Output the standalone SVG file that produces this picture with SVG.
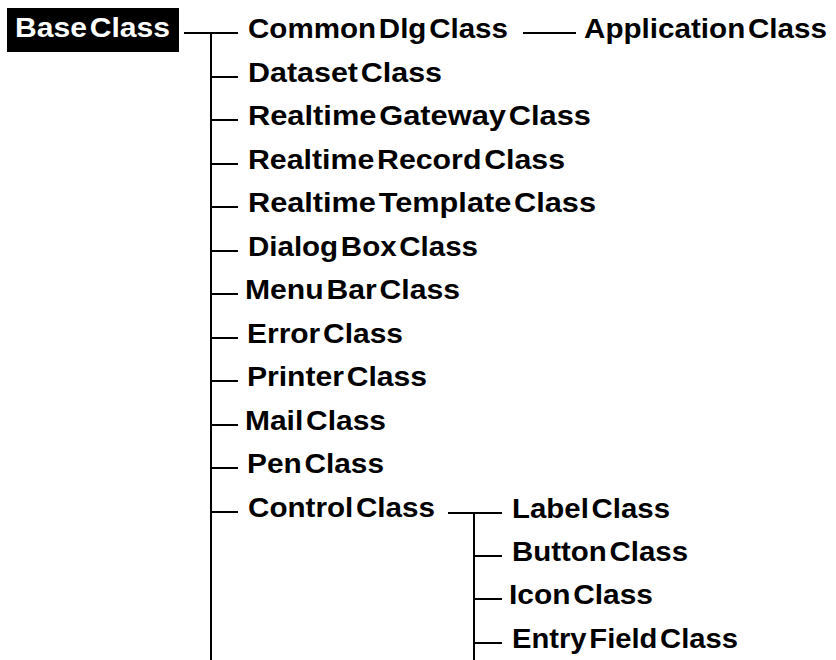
<svg xmlns="http://www.w3.org/2000/svg" width="836" height="660" viewBox="0 0 836 660">
  <style>
    .lbl { font-family: "Liberation Sans", Arial, Helvetica, sans-serif; font-weight: bold; font-size: 27px; word-spacing: -5px; fill: #000; }
    .root { fill: #fff; }
    .wire { stroke: #000; stroke-width: 2; fill: none; }
  </style>
  <rect width="836" height="660" fill="#fff"/>

  <!-- connectors -->
  <g id="connectors" class="wire">
    <!-- BaseClass trunk -->
    <line x1="184" y1="33" x2="238" y2="33"/>
    <line x1="211" y1="33" x2="211" y2="660"/>
    <line x1="211" y1="77" x2="238" y2="77"/>
    <line x1="211" y1="120" x2="238" y2="120"/>
    <line x1="211" y1="164" x2="238" y2="164"/>
    <line x1="211" y1="207" x2="238" y2="207"/>
    <line x1="211" y1="251" x2="238" y2="251"/>
    <line x1="211" y1="294" x2="238" y2="294"/>
    <line x1="211" y1="338" x2="238" y2="338"/>
    <line x1="211" y1="381" x2="238" y2="381"/>
    <line x1="211" y1="425" x2="238" y2="425"/>
    <line x1="211" y1="468" x2="238" y2="468"/>
    <line x1="211" y1="512" x2="238" y2="512"/>
    <!-- CommonDlgClass to ApplicationClass -->
    <line x1="523" y1="33" x2="576" y2="33"/>
    <!-- ControlClass subtree -->
    <line x1="448" y1="513" x2="502" y2="513"/>
    <line x1="474" y1="513" x2="474" y2="660"/>
    <line x1="474" y1="556" x2="502" y2="556"/>
    <line x1="474" y1="599" x2="502" y2="599"/>
    <line x1="474" y1="643" x2="502" y2="643"/>
  </g>

  <g id="BaseClass">
    <rect x="7" y="8" width="172" height="44" fill="#000"/>
    <text class="lbl root" x="15" y="37" textLength="155" lengthAdjust="spacingAndGlyphs">Base Class</text>
  </g>
  <g id="CommonDlgClass">
    <text class="lbl" x="248" y="37.5" textLength="260" lengthAdjust="spacingAndGlyphs">Common Dlg Class</text>
  </g>
  <g id="ApplicationClass">
    <text class="lbl" x="584" y="37.5" textLength="243" lengthAdjust="spacingAndGlyphs">Application Class</text>
  </g>
  <g id="DatasetClass">
    <text class="lbl" x="248" y="81.5" textLength="194" lengthAdjust="spacingAndGlyphs">Dataset Class</text>
  </g>
  <g id="RealtimeGatewayClass">
    <text class="lbl" x="248" y="125" textLength="343" lengthAdjust="spacingAndGlyphs">Realtime Gateway Class</text>
  </g>
  <g id="RealtimeRecordClass">
    <text class="lbl" x="248" y="168.5" textLength="317" lengthAdjust="spacingAndGlyphs">Realtime Record Class</text>
  </g>
  <g id="RealtimeTemplateClass">
    <text class="lbl" x="248" y="212" textLength="348" lengthAdjust="spacingAndGlyphs">Realtime Template Class</text>
  </g>
  <g id="DialogBoxClass">
    <text class="lbl" x="248" y="255.5" textLength="230" lengthAdjust="spacingAndGlyphs">Dialog Box Class</text>
  </g>
  <g id="MenuBarClass">
    <text class="lbl" x="245" y="299" textLength="215" lengthAdjust="spacingAndGlyphs">Menu Bar Class</text>
  </g>
  <g id="ErrorClass">
    <text class="lbl" x="247" y="342.5" textLength="156" lengthAdjust="spacingAndGlyphs">Error Class</text>
  </g>
  <g id="PrinterClass">
    <text class="lbl" x="247" y="386" textLength="180" lengthAdjust="spacingAndGlyphs">Printer Class</text>
  </g>
  <g id="MailClass">
    <text class="lbl" x="245" y="429.5" textLength="141" lengthAdjust="spacingAndGlyphs">Mail Class</text>
  </g>
  <g id="PenClass">
    <text class="lbl" x="247" y="473" textLength="137" lengthAdjust="spacingAndGlyphs">Pen Class</text>
  </g>
  <g id="ControlClass">
    <text class="lbl" x="248" y="517" textLength="187" lengthAdjust="spacingAndGlyphs">Control Class</text>
  </g>
  <g id="LabelClass">
    <text class="lbl" x="512" y="517.5" textLength="158" lengthAdjust="spacingAndGlyphs">Label Class</text>
  </g>
  <g id="ButtonClass">
    <text class="lbl" x="512" y="560.5" textLength="176" lengthAdjust="spacingAndGlyphs">Button Class</text>
  </g>
  <g id="IconClass">
    <text class="lbl" x="509" y="603.5" textLength="144" lengthAdjust="spacingAndGlyphs">Icon Class</text>
  </g>
  <g id="EntryFieldClass">
    <text class="lbl" x="512" y="647.5" textLength="226" lengthAdjust="spacingAndGlyphs">Entry Field Class</text>
  </g>
</svg>
